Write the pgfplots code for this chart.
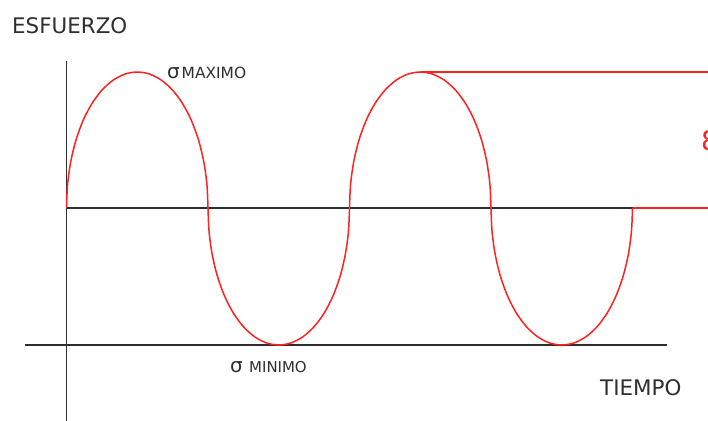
\documentclass[border=0pt]{standalone}
\usepackage{fontspec}
\setmainfont{DejaVu Sans}
\usepackage{pgfplots}
\pgfplotsset{compat=1.18}
\definecolor{axisgray}{HTML}{2E2E2E}
\definecolor{wavered}{HTML}{FF2020}
\begin{document}
\begin{tikzpicture}
\begin{axis}[
    scale only axis, width=708bp, height=421bp,
    xmin=0, xmax=708, ymin=0, ymax=421, y dir=reverse,
    hide axis, clip=false,
]
% black reference lines
\addplot[axisgray, line width=2pt] coordinates {(66.5,61) (66.5,421)};
\addplot[axisgray, line width=1.7pt] coordinates {(25,345) (667,345)};
\addplot[axisgray, line width=1.7pt] coordinates {(66.5,208) (632.5,208)};
% red helper lines
\addplot[wavered, line width=1.5pt] coordinates {(420.25,72) (708,72)};
\addplot[wavered, line width=1.5pt] coordinates {(632.5,208) (708,208)};
% stress wave (half-ellipse arcs)
\addplot[wavered, line width=1.5pt, smooth] coordinates {
  (66.5,208) (67.57,184.39) (70.77,161.49) (75.98,140.0) (83.06,120.58)
  (91.77,103.82) (101.87,90.22) (113.05,80.20) (124.97,74.07) (137.25,72)
  (149.53,74.07) (161.45,80.20) (172.63,90.22) (182.73,103.82) (191.44,120.58)
  (198.52,140.0) (203.73,161.49) (206.93,184.39) (208,208)};
\addplot[wavered, line width=1.5pt, smooth] coordinates {
  (208,208) (209.07,231.78) (212.27,254.85) (217.48,276.5) (224.56,296.06)
  (233.27,312.94) (243.37,326.64) (254.55,336.74) (266.47,342.91) (278.75,345)
  (291.03,342.91) (302.95,336.74) (314.13,326.64) (324.23,312.94) (332.94,296.06)
  (340.02,276.5) (345.23,254.85) (348.43,231.78) (349.5,208)};
\addplot[wavered, line width=1.5pt, smooth] coordinates {
  (349.5,208) (350.57,184.39) (353.77,161.49) (358.98,140.0) (366.06,120.58)
  (374.77,103.82) (384.87,90.22) (396.05,80.20) (407.97,74.07) (420.25,72)
  (432.53,74.07) (444.45,80.20) (455.63,90.22) (465.73,103.82) (474.44,120.58)
  (481.52,140.0) (486.73,161.49) (489.93,184.39) (491,208)};
\addplot[wavered, line width=1.5pt, smooth] coordinates {
  (491,208) (492.07,231.78) (495.27,254.85) (500.48,276.5) (507.56,296.06)
  (516.27,312.94) (526.37,326.64) (537.55,336.74) (549.47,342.91) (561.75,345)
  (574.03,342.91) (585.95,336.74) (597.13,326.64) (607.23,312.94) (615.94,296.06)
  (623.02,276.5) (628.23,254.85) (631.43,231.78) (632.5,208)};
% labels
\node[anchor=west, inner sep=0, text=axisgray, font=\fontsize{21.5}{24}\selectfont] at (axis cs:12,25.5) {ESFUERZO};
\node[anchor=west, inner sep=0, text=axisgray, font=\fontsize{21.5}{24}\selectfont] at (axis cs:600,388) {TIEMPO};
\node[anchor=base west, inner sep=0, text=axisgray, font=\fontsize{20}{22}\selectfont] at (axis cs:167,79) {σ};
\node[anchor=base west, inner sep=0, text=axisgray, font=\fontsize{15.5}{18}\selectfont] at (axis cs:181.5,79) {MAXIMO};
\node[anchor=base west, inner sep=0, text=axisgray, font=\fontsize{20}{22}\selectfont] at (axis cs:230,372) {σ};
\node[anchor=base west, inner sep=0, text=axisgray, font=\fontsize{15}{18}\selectfont] at (axis cs:249,372) {MINIMO};
\node[anchor=west, inner sep=0, text=wavered, font=\fontsize{27}{30}\selectfont] at (axis cs:701,141) {8};
\end{axis}
\pgfresetboundingbox
\path[use as bounding box] (current axis.south west) rectangle (current axis.north east);
\end{tikzpicture}
\end{document}
